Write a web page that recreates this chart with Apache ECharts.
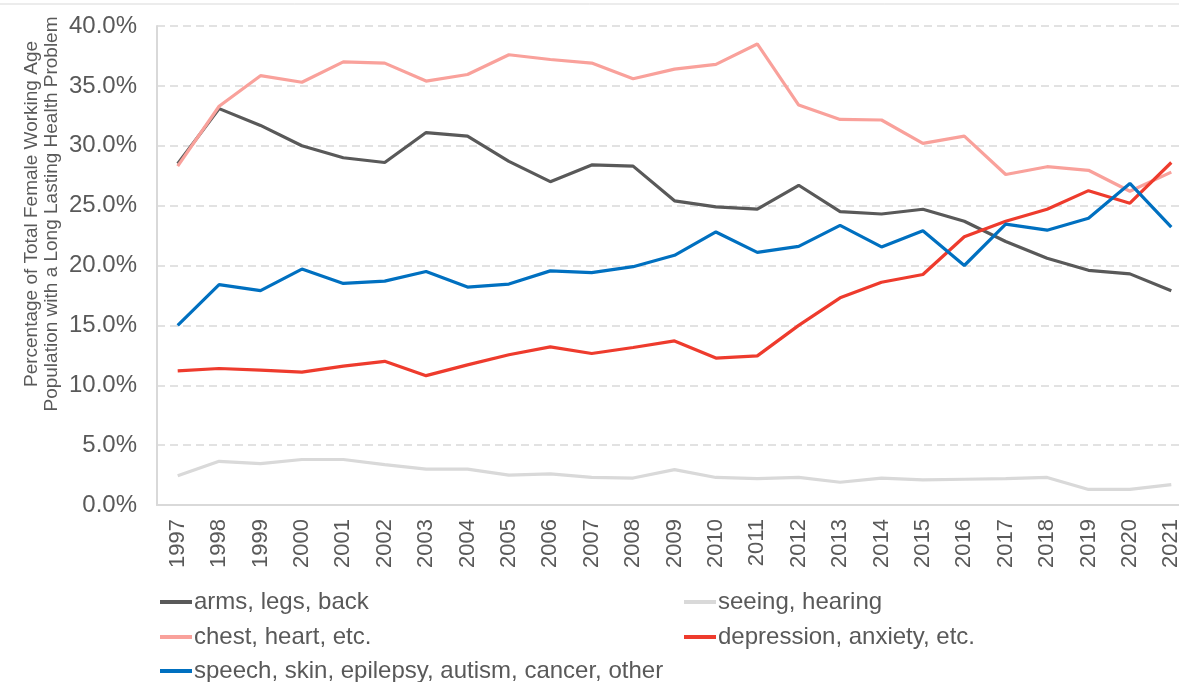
<!DOCTYPE html>
<html>
<head>
<meta charset="utf-8">
<script src="https://cdn.jsdelivr.net/npm/echarts@6/dist/echarts.min.js"></script>
<style>
html, body { margin: 0; padding: 0; background: #fff; }
#main { width: 1179px; height: 682px; }
</style>
</head>
<body>
<div id="main"></div>
<script>
var years = ['1997','1998','1999','2000','2001','2002','2003','2004','2005','2006','2007','2008','2009',
             '2010','2011','2012','2013','2014','2015','2016','2017','2018','2019','2020','2021'];

// % of female working age population, by type of health problem
var armsLegsBack = [28.5,33.1,31.7,30.0,29.0,28.6,31.1,30.8,28.7,27.0,28.4,28.3,25.4,
                    24.9,24.7,26.7,24.5,24.3,24.7,23.7,22.0,20.6,19.6,19.3,17.9];
var seeingHearing = [2.45,3.65,3.45,3.8,3.8,3.37,3.0,3.0,2.5,2.6,2.3,2.25,2.95,
                     2.3,2.2,2.3,1.9,2.25,2.1,2.15,2.2,2.3,1.3,1.3,1.7];
var chestHeart = [28.3,33.3,35.85,35.3,37.0,36.9,35.4,35.95,37.6,37.2,36.9,35.6,36.4,
                  36.8,38.5,33.4,32.2,32.15,30.2,30.8,27.6,28.25,27.95,26.2,27.8];
var depression = [11.2,11.4,11.27,11.1,11.6,12.0,10.8,11.7,12.55,13.2,12.65,13.15,13.7,
                  12.27,12.45,15.0,17.3,18.6,19.25,22.4,23.7,24.7,26.25,25.2,28.6];
var speechOther = [15.0,18.4,17.9,19.7,18.5,18.7,19.5,18.2,18.45,19.55,19.4,19.9,20.85,
                   22.8,21.1,21.6,23.35,21.55,22.9,20.0,23.45,22.95,23.95,26.85,23.2];

var names = ['arms, legs, back', 'seeing, hearing', 'chest, heart, etc.',
             'depression, anxiety, etc.', 'speech, skin, epilepsy, autism, cancer, other'];
var colors = ['#595959', '#d9d9d9', '#f9a19b', '#ee3b2d', '#0070c0'];
var values = [armsLegsBack, seeingHearing, chestHeart, depression, speechOther];
// legend slots (left, top) for each series, two columns like the original
var legendPos = [[160, 590], [684, 590], [160, 625], [684, 625], [160, 659]];

var myChart = echarts.init(document.getElementById('main'));

var txt = '#595959';
var font = 'Liberation Sans, Arial, sans-serif';

var series = [];
var legends = [];
for (var i = 0; i < names.length; i++) {
  series.push({
    name: names[i],
    type: 'line',
    data: values[i],
    symbol: 'none',
    lineStyle: { color: colors[i], width: 3.2 },
    itemStyle: { color: colors[i] }
  });
  legends.push({
    data: [names[i]],
    left: legendPos[i][0], top: legendPos[i][1],
    padding: 0,
    itemWidth: 32, itemHeight: 4, icon: 'rect',
    textStyle: { color: txt, fontSize: 24, fontFamily: font, padding: [0, 0, 0, -3] }
  });
}

myChart.setOption({
  animation: false,
  color: colors,
  textStyle: { fontFamily: font },
  grid: { left: 157, top: 26, right: -13, bottom: 177, containLabel: false, outerBoundsMode: 'none' },
  graphic: [{
    type: 'line',
    shape: { x1: 0, y1: 4, x2: 1179, y2: 4 },
    style: { stroke: '#d9d9d9', lineWidth: 1 }
  }, {
    type: 'text',
    x: 42, y: 214,
    rotation: Math.PI / 2,
    style: {
      text: 'Percentage of Total Female Working Age\nPopulation with a Long Lasting Health Problem',
      fill: txt, font: '19px ' + font, lineHeight: 20,
      align: 'center', verticalAlign: 'middle'
    }
  }],
  legend: legends,
  xAxis: {
    type: 'category',
    data: years,
    boundaryGap: true,
    axisLine: { lineStyle: { color: '#d9d9d9', width: 2 } },
    axisTick: { show: false },
    axisLabel: { rotate: 90, margin: 14, color: txt, fontSize: 22, fontFamily: font, interval: 0 }
  },
  yAxis: {
    type: 'value',
    min: 0, max: 40, interval: 5,
    axisLine: { show: true, lineStyle: { color: '#d9d9d9', width: 2 } },
    axisTick: { show: false },
    axisLabel: {
      margin: 20, color: txt, fontSize: 24, fontFamily: font,
      formatter: function (v) { return v.toFixed(1) + '%'; }
    },
    splitLine: { lineStyle: { color: '#d9d9d9', type: [8, 5], width: 1.5 } }
  },
  series: series
});
</script>
</body>
</html>
